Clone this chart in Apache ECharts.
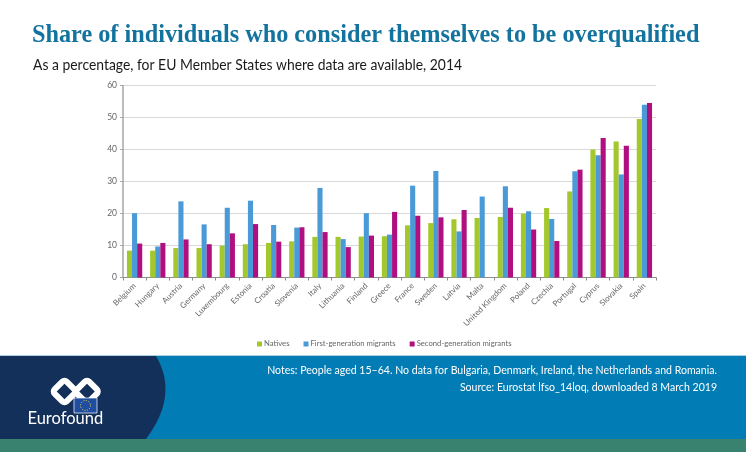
<!DOCTYPE html>
<html>
<head>
<meta charset="utf-8">
<style>
  html, body { margin: 0; padding: 0; background: #fff; }
  #chart { width: 746px; height: 452px; }
</style>
<script src="https://cdn.jsdelivr.net/npm/echarts@6/dist/echarts.min.js"></script>
</head>
<body>
<div id="chart"></div>
<script>
var countries = ['Belgium', 'Hungary', 'Austria', 'Germany', 'Luxembourg', 'Estonia', 'Croatia', 'Slovenia', 'Italy', 'Lithuania', 'Finland', 'Greece', 'France', 'Sweden', 'Latvia', 'Malta', 'United Kingdom', 'Poland', 'Czechia', 'Portugal', 'Cyprus', 'Slovakia', 'Spain'];
var natives = [8.4, 8.4, 9.2, 9.2, 10, 10.4, 10.8, 11.3, 12.7, 12.7, 12.8, 12.9, 16.3, 17, 18.2, 18.6, 18.9, 20, 21.7, 26.9, 40, 42.5, 49.5];
var firstGen = [20.1, 9.7, 23.8, 16.6, 21.8, 24, 16.4, 15.6, 28, 12, 20.1, 13.4, 28.7, 33.3, 14.4, 25.3, 28.5, 20.7, 18.3, 33.2, 38.2, 32.2, 54];
var secondGen = [10.6, 10.8, 11.9, 10.4, 13.8, 16.7, 11.2, 15.7, 14.2, 9.5, 13.1, 20.5, 19.3, 18.8, 21.1, null, 21.8, 15, 11.4, 33.7, 43.6, 41.2, 54.5];

var titleText = 'Share of individuals who consider themselves to be overqualified';
var subtitleText = 'As a percentage, for EU Member States where data are available, 2014';
var notesText = 'Notes: People aged 15–64. No data for Bulgaria, Denmark, Ireland, the Netherlands and Romania.';
var sourceText = 'Source: Eurostat lfso_14loq, downloaded 8 March 2019';

function barSeries(name, values, color) {
  return {
    name: name,
    type: 'bar',
    data: values,
    barGap: 0,
    barCategoryGap: '34%',
    itemStyle: { color: color },
    silent: true,
    z: 3
  };
}

// the little linked-diamonds logo, roughly
function diamond(cx, cy) {
  return {
    type: 'rect',
    x: cx, y: cy,
    rotation: Math.PI / 4,
    shape: { x: -8.5, y: -8.5, width: 17, height: 17, r: 3 },
    style: { fill: 'transparent', stroke: '#fff', lineWidth: 6 },
    z: 3
  };
}

// navy panel of the footer, its right edge is a shallow curve
function panelPoints() {
  var pts = [[0, 356]];
  for (var i = 0; i <= 24; i++) {
    var t = i / 24;
    pts.push([
      (1 - t) * (1 - t) * 156 + 2 * t * (1 - t) * 179 + t * t * 146,
      (1 - t) * (1 - t) * 356 + 2 * t * (1 - t) * 395 + t * t * 439
    ]);
  }
  pts.push([0, 439]);
  return pts;
}

var chart = echarts.init(document.getElementById('chart'), null, { renderer: 'canvas' });
chart.setOption({
  animation: false,
  backgroundColor: '#fff',
  textStyle: { fontFamily: 'Lato' },
  grid: { left: 123, right: 90, top: 85.5, bottom: 174.5, containLabel: false },
  legend: {
    left: 252, top: 335, itemWidth: 5, itemHeight: 5, itemGap: 14,
    icon: 'rect',
    selectedMode: false,
    textStyle: { fontSize: 7.7, color: '#666', padding: [0, 0, 0, -3] }
  },
  xAxis: {
    type: 'category',
    data: countries,
    axisLine: { lineStyle: { color: '#8c8c8c', width: 1 } },
    axisTick: { show: true, length: 3, lineStyle: { color: '#8c8c8c' } },
    axisLabel: { rotate: 45, interval: 0, fontSize: 8, color: '#666', margin: 7 }
  },
  yAxis: {
    type: 'value', min: 0, max: 60, interval: 10,
    axisLine: { show: true, lineStyle: { color: '#a6a6a6', width: 1.5 } },
    axisTick: { show: true, length: 3, lineStyle: { color: '#a6a6a6' } },
    axisLabel: { fontSize: 8.5, color: '#666', margin: 6 },
    splitLine: { lineStyle: { color: '#d9d9d9', width: 1 } }
  },
  series: [
    barSeries('Natives', natives, '#a3c82e'),
    barSeries('First-generation migrants', firstGen, '#4a9ad8'),
    barSeries('Second-generation migrants', secondGen, '#b0107f')
  ],
  graphic: [
    { type: 'text', x: 32, y: 24, style: { text: titleText, fill: '#13739f', font: 'bold 24.25px "Liberation Serif"' } },
    { type: 'text', x: 33, y: 58, scaleX: 0.927, style: { text: subtitleText, fill: '#1a1a1a', font: '15px "Lato"' } },
    { type: 'rect', shape: { x: 0, y: 355, width: 746, height: 1 }, style: { fill: '#a9cfe2' }, z: 1 },
    { type: 'rect', shape: { x: 0, y: 356, width: 746, height: 83 }, style: { fill: '#027cb4' }, z: 1 },
    { type: 'rect', shape: { x: 0, y: 439, width: 746, height: 13 }, style: { fill: '#38826f' }, z: 1 },
    { type: 'polygon', shape: { points: panelPoints() }, style: { fill: '#13305b' }, z: 2 },
    diamond(64.5, 391.5),
    diamond(87, 391.5),
    { type: 'rect', shape: { x: 74, y: 398, width: 23, height: 15 }, style: { fill: '#1f4ea1', stroke: '#fff', lineWidth: 0.7 }, z: 4 },
    { type: 'circle', shape: { cx: 85.5, cy: 405.5, r: 5 }, style: { fill: 'transparent', stroke: '#f2d64b', lineWidth: 1, lineDash: [1, 1.6] }, z: 5 },
    { type: 'text', x: 27.5, y: 410, style: { text: 'Eurofound', fill: '#fff', font: '16.5px "Lato"' }, z: 4 },
    { type: 'text', x: 717, y: 364, scaleX: 0.895, style: { text: notesText, fill: '#fff', font: '11.8px "Lato"', textAlign: 'right' }, z: 4 },
    { type: 'text', x: 717, y: 381, scaleX: 0.895, style: { text: sourceText, fill: '#fff', font: '11.8px "Lato"', textAlign: 'right' }, z: 4 }
  ]
});
</script>
</body>
</html>
